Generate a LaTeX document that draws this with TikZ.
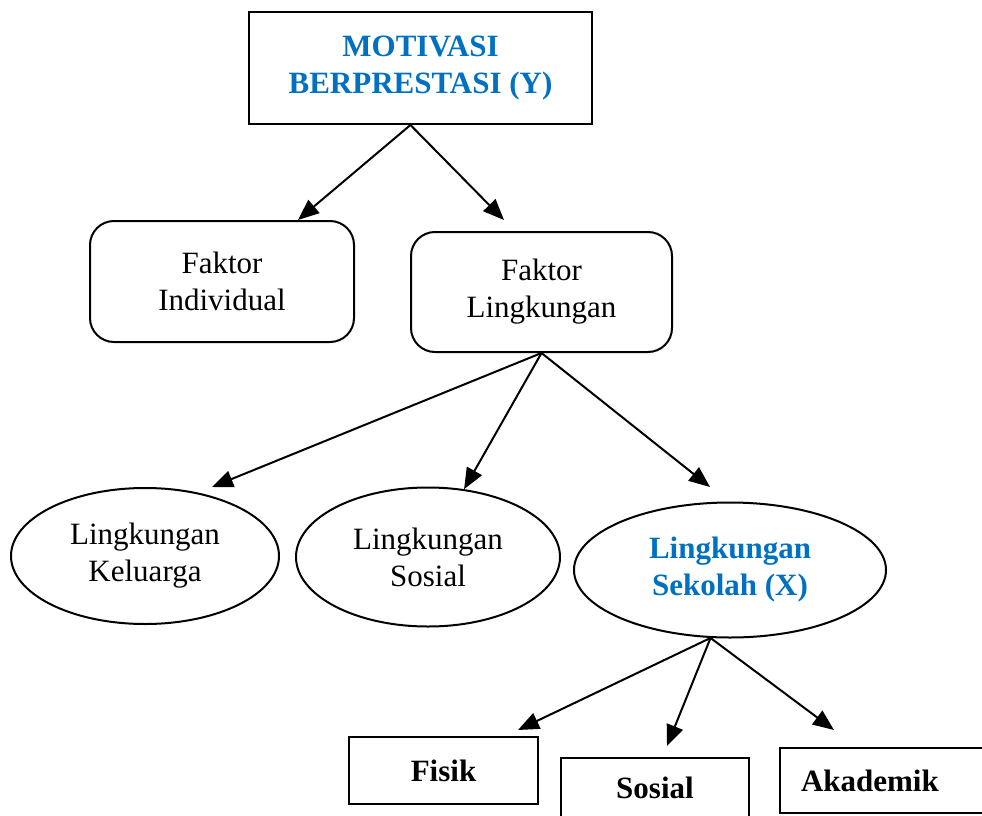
\documentclass[tikz,border=0pt]{standalone}
\usepackage{fontspec}
\setmainfont{Liberation Serif}
\usepackage{xcolor}
\usetikzlibrary{arrows.meta}
\usetikzlibrary{shapes.geometric}

\definecolor{judul}{RGB}{0,112,192}
\tikzset{
  kotak/.style={draw,line width=2pt,align=center,inner sep=0pt,font=\fontsize{31}{37}\selectfont},
  bulat/.style={kotak,rounded corners=24pt},
  elips/.style={kotak,ellipse},
  tebal/.style={font=\fontsize{31}{37}\selectfont\bfseries},
  panah/.style={line width=2pt,-{Triangle[length=21pt,width=17pt]}}
}

\begin{document}
\begin{tikzpicture}[x=1pt,y=-1pt]
\clip (0,0) rectangle (982,816);
\node[kotak,tebal,text=judul,minimum width=343pt,minimum height=112pt] (motiv) at (420.5,68) {MOTIVASI\\BERPRESTASI (Y)};
\node[bulat,minimum width=264pt,minimum height=121pt] (indiv) at (222,281.5) {Faktor\\Individual};
\node[bulat,minimum width=261pt,minimum height=120pt] (lingk) at (541.5,292) {Faktor\\Lingkungan};
\node[elips,minimum width=268pt,minimum height=136pt] (kel) at (145,556) {Lingkungan\\Keluarga};
\node[elips,minimum width=264pt,minimum height=139pt] (sos) at (428,557) {Lingkungan\\Sosial};
\node[elips,tebal,text=judul,minimum width=312pt,minimum height=135pt] (sek) at (730,570) {Lingkungan\\Sekolah (X)};
\node[kotak,tebal,minimum width=189pt,minimum height=67pt] (fisik) at (443.5,770.5) {Fisik};
\node[kotak,tebal,minimum width=188pt,minimum height=72pt,text height=21pt,text depth=13pt] (sosial) at (655,794) {Sosial};
\node[kotak,tebal,anchor=west,minimum height=65pt,text width=200pt,align=left,inner xsep=21pt] (akad) at (779,780.5) {Akademik};

\coordinate (ujungL) at (504,220);
\coordinate (ujungKel) at (212,487);
\coordinate (ujungSek) at (710,487);
\coordinate (ujungFis) at (518,730);
\coordinate (ujungSos) at (667,746);
\coordinate (ujungAk) at (834,730);

\draw[panah] (motiv.260) -- (indiv.39);
\draw[panah] (motiv.260) -- (ujungL);
\draw[panah] (lingk.south) -- (ujungKel);
\draw[panah] (lingk.south) -- (sos.62);
\draw[panah] (lingk.south) -- (ujungSek);
\draw[panah] (sek.254) -- (ujungFis);
\draw[panah] (sek.254) -- (ujungSos);
\draw[panah] (sek.254) -- (ujungAk);
\end{tikzpicture}
\end{document}
